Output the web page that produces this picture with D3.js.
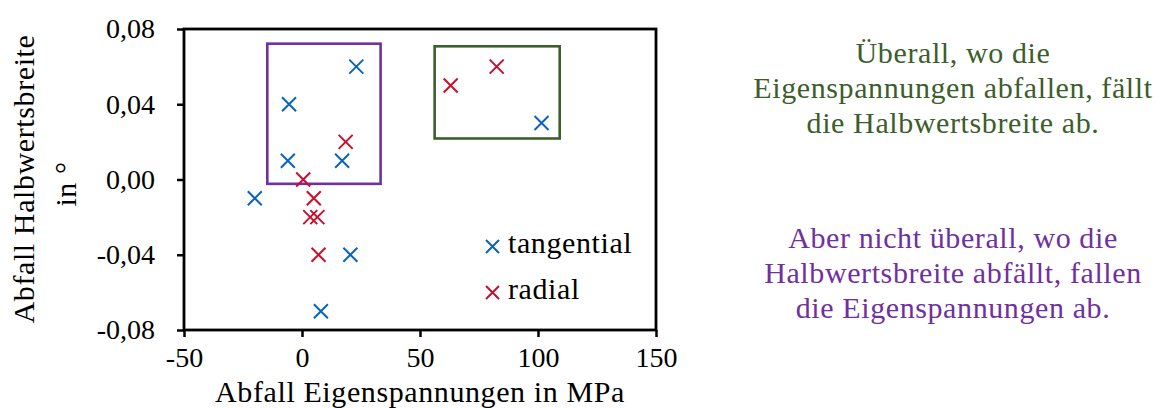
<!DOCTYPE html>
<html>
<head>
<meta charset="utf-8">
<script src="https://d3js.org/d3.v7.min.js"></script>
<style>
  body { margin: 0; background: #fff; }
  svg text { font-family: "Liberation Serif", "DejaVu Serif", serif; }
  .axis text { font-size: 28px; fill: #000; }
  .axis line { stroke: #000; stroke-width: 2.5; }
  .lbl { font-size: 30px; letter-spacing: 0.6px; }
</style>
</head>
<body>
<div id="chart"></div>
<script>
// tangential points (Abfall Eigenspannungen MPa, Abfall Halbwertsbreite °)
const tangX = [23, -5.5, -6, 17, 101.5, -20, 20.5, 8];
const tangY = [0.06, 0.04, 0.01, 0.01, 0.03, -0.01, -0.04, -0.07];
// radial points
const radX = [18.5, 0.5, 5, 3.5, 6.5, 7, 63, 82.5];
const radY = [0.02, 0.0, -0.01, -0.02, -0.02, -0.04, 0.05, 0.06];

const xTicks = [-50, 0, 50, 100, 150];
const yTicks = [-0.08, -0.04, 0, 0.04, 0.08];

// highlight boxes [x0, x1, y0, y1] in data units
const purpleBox = [-14.7, 33.3, -0.0023, 0.0722];
const greenBox = [56.2, 109.2, 0.0218, 0.0708];

const noteGreen = ["Überall, wo die", "Eigenspannungen abfallen, fällt", "die Halbwertsbreite ab."];
const notePurple = ["Aber nicht überall, wo die", "Halbwertsbreite abfällt, fallen", "die Eigenspannungen ab."];

const blue = "#0a64bc", red = "#c8102e", green = "#3b5e2b", purple = "#7030a0";

const W = 1158, H = 408;
const svg = d3.select("#chart").append("svg").attr("width", W).attr("height", H);

const x = d3.scaleLinear().domain([-50, 150]).range([184, 656]);
const y = d3.scaleLinear().domain([-0.08, 0.08]).range([330, 29]);

// axes
svg.append("g")
  .attr("class", "axis")
  .attr("transform", `translate(${x(-50)},0)`)
  .call(d3.axisLeft(y).tickValues(yTicks).tickSize(7).tickSizeOuter(0).tickPadding(22)
    .tickFormat(d => d.toFixed(2).replace(".", ",")))
  .call(g => g.select(".domain").remove());

svg.append("g")
  .attr("class", "axis")
  .attr("transform", `translate(0,${y(-0.08)})`)
  .call(d3.axisBottom(x).tickValues(xTicks).tickSize(7).tickSizeOuter(0).tickPadding(10)
    .tickFormat(d => String(d)))
  .call(g => g.select(".domain").remove());

// frame
svg.append("rect")
  .attr("x", x(-50)).attr("y", y(0.08))
  .attr("width", x(150) - x(-50)).attr("height", y(-0.08) - y(0.08))
  .attr("fill", "none").attr("stroke", "#000").attr("stroke-width", 2.8);

// boxes
function box(b, c) {
  svg.append("rect")
    .attr("x", x(b[0])).attr("y", y(b[3]))
    .attr("width", x(b[1]) - x(b[0])).attr("height", y(b[2]) - y(b[3]))
    .attr("fill", "none").attr("stroke", c).attr("stroke-width", 2.6);
}
box(purpleBox, purple);
box(greenBox, green);

// cross markers
function cross(sel, s) {
  return sel.attr("d", `M${-s},${-s}L${s},${s}M${-s},${s}L${s},${-s}`);
}
function series(xs, ys, c) {
  svg.append("g").selectAll("path")
    .data(xs.map((v, i) => [v, ys[i]]))
    .join("path")
    .attr("transform", d => `translate(${x(d[0])},${y(d[1])})`)
    .call(cross, 7)
    .attr("stroke", c).attr("stroke-width", 2).attr("fill", "none");
}
series(tangX, tangY, blue);
series(radX, radY, red);

// legend
const legend = [["tangential", blue], ["radial", red]];
legend.forEach((l, i) => {
  const ly = 246.5 + i * 46;
  svg.append("path").attr("transform", `translate(492.5,${ly})`).call(cross, 6.5)
    .attr("stroke", l[1]).attr("stroke-width", 2).attr("fill", "none");
  svg.append("text").attr("class", "lbl").attr("x", 508).attr("y", ly + 6).text(l[0]);
});

// axis titles
svg.append("text").attr("class", "lbl").attr("x", x(50)).attr("y", 402).attr("text-anchor", "middle")
  .text("Abfall Eigenspannungen in MPa");

svg.append("text").attr("class", "lbl").attr("transform", "translate(34,179) rotate(-90)")
  .attr("text-anchor", "middle").text("Abfall Halbwertsbreite");
svg.append("text").attr("class", "lbl").attr("transform", "translate(76,184) rotate(-90)")
  .attr("text-anchor", "middle").text("in °");

// notes
function note(lines, c, y0) {
  lines.forEach((t, i) => {
    svg.append("text").attr("class", "lbl").attr("x", 953).attr("y", y0 + i * 35)
      .attr("text-anchor", "middle").attr("fill", c).text(t);
  });
}
note(noteGreen, green, 63);
note(notePurple, purple, 248);
</script>
</body>
</html>
